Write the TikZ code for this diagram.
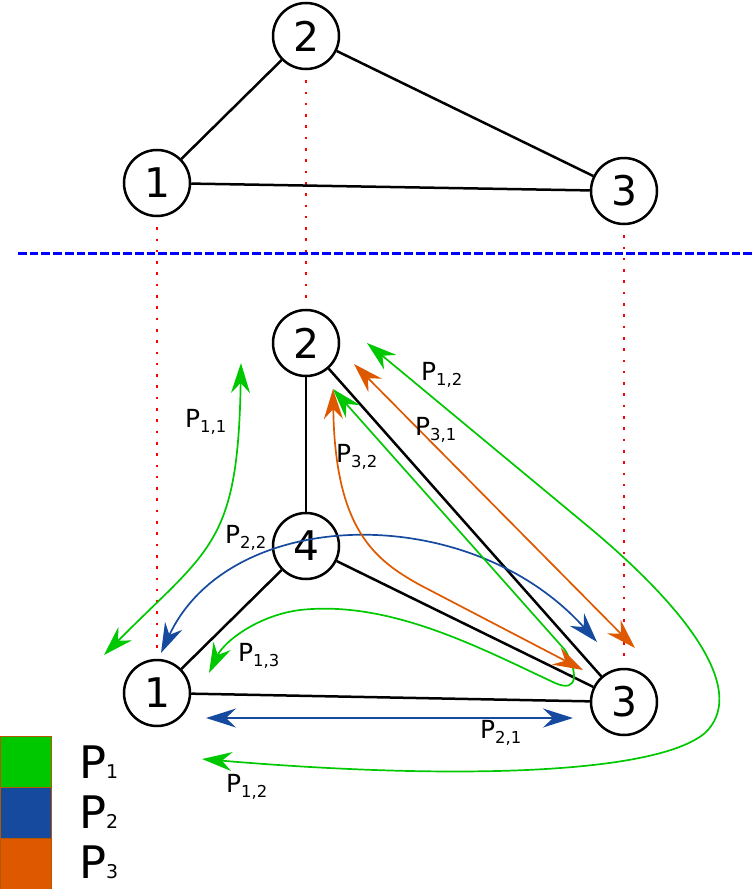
\documentclass[tikz,border=0pt]{standalone}
\usepackage{fontspec}
\setmainfont{DejaVu Sans}
\usepackage{xcolor}
\usepackage{tikz}
\usetikzlibrary{arrows.meta}

\definecolor{pgreen}{RGB}{0,200,0}
\definecolor{pblue}{RGB}{22,74,158}
\definecolor{porange}{RGB}{222,88,0}

\newcommand\plab[1]{P\raisebox{-5bp}{\fontsize{16.5}{16.5}\selectfont #1}}
\newcommand\legp[1]{\fontsize{45}{45}\selectfont P\fontsize{19}{19}\selectfont #1}

\begin{document}
\begin{tikzpicture}[x=1bp, y=-1bp,
    vertex/.style={draw, circle, line width=2.5bp, fill=white, minimum size=66bp,
                   inner sep=0pt, font=\fontsize{41}{41}\selectfont},
    edge/.style={line width=2.5bp},
    proj/.style={red, line width=2.6bp, dash pattern=on 2.6bp off 8.7bp},
    walk/.style={line width=1.7bp,
                 {Stealth[length=30bp,width=19bp,inset=10bp]}-{Stealth[length=30bp,width=19bp,inset=10bp]}},
    plabel/.style={anchor=base west, inner sep=0pt, font=\fontsize{25}{25}\selectfont},
    swatch/.style={minimum size=51bp, inner sep=0pt, anchor=north west,
                   draw=orange!70!black, line width=0.5bp},
]
    \useasboundingbox (0,0) rectangle (754,889);

    % original graph
    \node[vertex] (t1) at (157,183) {1};
    \node[vertex] (t2) at (306,36) {2};
    \node[vertex] (t3) at (624,191) {3};

    % separator
    \coordinate (sepL) at (18,253);
    \coordinate (sepR) at (754,253);
    \draw[blue, line width=3bp, dash pattern=on 8.7bp off 3bp] (sepL) -- (sepR);

    % extended graph
    \node[vertex] (b2) at (306,343) {2};
    \node[vertex] (b4) at (306,546) {4};
    \node[vertex] (b1) at (157,693) {1};
    \node[vertex] (b3) at (624,702) {3};

    \foreach \n in {1,2,3}
        \draw[proj, shorten <=10bp, shorten >=7bp] (t\n) -- (b\n);

    \foreach \a/\b in {t1/t2, t2/t3, t1/t3, b2/b4, b4/b1, b4/b3, b2/b3, b1/b3}
        \draw[edge] (\a) -- (\b);

    % path ends
    \coordinate (g11a) at (241,363);  \coordinate (g11b) at (104,655);
    \coordinate (b22a) at (161,653);  \coordinate (b22b) at (597,642);
    \coordinate (g13a) at (333,389);  \coordinate (g13b) at (209,673);
    \coordinate (o32a) at (333,389);  \coordinate (o32b) at (583,670);
    \coordinate (o31a) at (354,364);  \coordinate (o31b) at (635,648);
    \coordinate (g12a) at (367,343);  \coordinate (g12b) at (202,759);
    \coordinate (b21a) at (206,718);  \coordinate (b21b) at (573,718);

    \draw[walk, pgreen] (g11a) .. controls (238,545) and (210,548) .. (g11b);
    \draw[walk, pblue] (b22a) .. controls (230,505) and (470,500) .. (b22b);
    \draw[walk, pgreen] (g13a) -- (565,650) .. controls (577,670) and (580,694) .. (555,683)
        .. controls (480,648) and (390,600) .. (300,610) .. controls (260,615) and (225,640) .. (g13b);
    \draw[walk, porange] (o32a) .. controls (335,530) and (375,560) .. (420,585) -- (o32b);
    \draw[walk, porange] (o31a) -- (o31b);
    \draw[walk, pgreen] (g12a) -- (590,528) .. controls (700,620) and (745,695) .. (705,733)
        .. controls (655,775) and (450,780) .. (g12b);
    \draw[walk, pblue] (b21a) -- (b21b);

    % labels
    \node[plabel] (l11) at (185,427) {\plab{1,1}};
    \node[plabel] (l22) at (225,543) {\plab{2,2}};
    \node[plabel] (l13) at (238,661) {\plab{1,3}};
    \node[plabel] (l32) at (336,462) {\plab{3,2}};
    \node[plabel] (l31) at (415,435) {\plab{3,1}};
    \node[plabel] (l12a) at (421,380) {\plab{1,2}};
    \node[plabel] (l12b) at (226,792) {\plab{1,2}};
    \node[plabel] (l21) at (480,738) {\plab{2,1}};

    % legend
    \node[swatch, fill=pgreen] (k1) at (0,736) {};
    \node[swatch, fill=pblue] (k2) at (0,787) {};
    \node[swatch, fill=porange] (k3) at (0,838) {};
    \node[anchor=base west, inner sep=0pt] (k1t) at (79,778) {\legp{1}};
    \node[anchor=base west, inner sep=0pt] (k2t) at (79,828) {\legp{2}};
    \node[anchor=base west, inner sep=0pt] (k3t) at (79,878) {\legp{3}};
\end{tikzpicture}
\end{document}
